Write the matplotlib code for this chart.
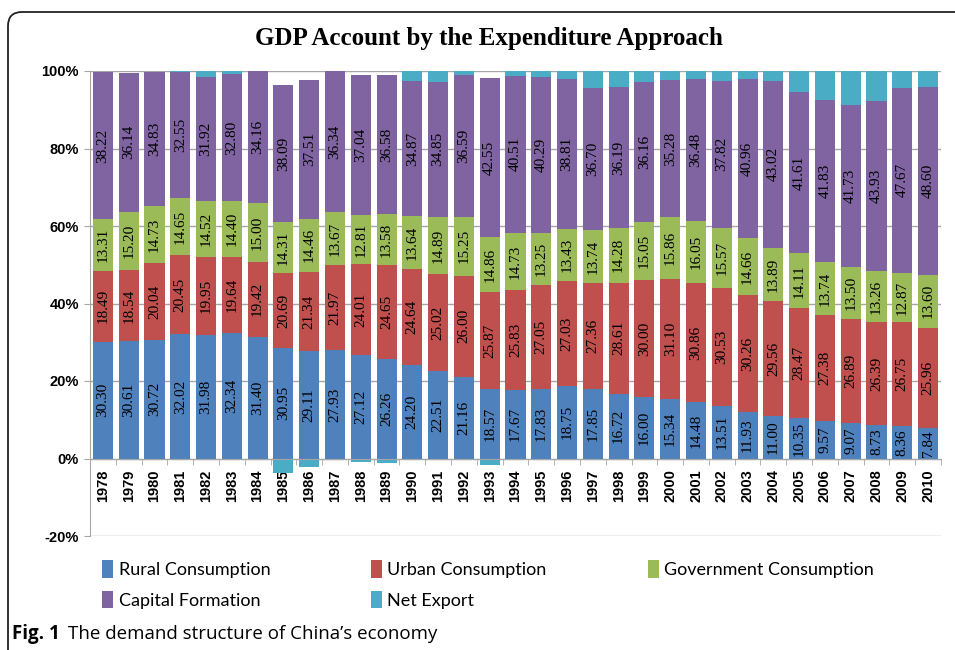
import matplotlib.pyplot as plt
import numpy as np
from matplotlib.path import Path
from matplotlib.patches import PathPatch

years = [str(y) for y in range(1978, 2011)]

rural = [30.30, 30.61, 30.72, 32.02, 31.98, 32.34, 31.40, 30.95, 29.11, 27.93,
         27.12, 26.26, 24.20, 22.51, 21.16, 18.57, 17.67, 17.83, 18.75, 17.85,
         16.72, 16.00, 15.34, 14.48, 13.51, 11.93, 11.00, 10.35, 9.57, 9.07,
         8.73, 8.36, 7.84]
urban = [18.49, 18.54, 20.04, 20.45, 19.95, 19.64, 19.42, 20.69, 21.34, 21.97,
         24.01, 24.65, 24.64, 25.02, 26.00, 25.87, 25.83, 27.05, 27.03, 27.36,
         28.61, 30.00, 31.10, 30.86, 30.53, 30.26, 29.56, 28.47, 27.38, 26.89,
         26.39, 26.75, 25.96]
government = [13.31, 15.20, 14.73, 14.65, 14.52, 14.40, 15.00, 14.31, 14.46, 13.67,
              12.81, 13.58, 13.64, 14.89, 15.25, 14.86, 14.73, 13.25, 13.43, 13.74,
              14.28, 15.05, 15.86, 16.05, 15.57, 14.66, 13.89, 14.11, 13.74, 13.50,
              13.26, 12.87, 13.60]
capital = [38.22, 36.14, 34.83, 32.55, 31.92, 32.80, 34.16, 38.09, 37.51, 36.34,
           37.04, 36.58, 34.87, 34.85, 36.59, 42.55, 40.51, 40.29, 38.81, 36.70,
           36.19, 36.16, 35.28, 36.48, 37.82, 40.96, 43.02, 41.61, 41.83, 41.73,
           43.93, 47.67, 48.60]
# net export is not labelled in the chart, estimated from the bar tops
net_export = [-0.32, -0.49, -0.32, 0.33, 1.63, 0.82, 0.02, -4.04, -2.42, 0.09,
              -0.98, -1.07, 2.65, 2.73, 1.00, -1.85, 1.26, 1.58, 1.98, 4.35,
              4.20, 2.79, 2.42, 2.13, 2.57, 2.19, 2.53, 5.46, 7.48, 8.81,
              7.69, 4.35, 4.00]

names = ['Rural Consumption', 'Urban Consumption', 'Government Consumption',
         'Capital Formation', 'Net Export']
colors = ['#4F81BD', '#C0504D', '#9BBB59', '#8064A2', '#4BACC6']

series = np.array([rural, urban, government, capital, net_export])
# 100% stacked: every column is scaled by the sum of absolute values
scale = 100.0 / np.abs(series).sum(axis=0)
shares = series * scale

fig = plt.figure(figsize=(9.55, 6.5), dpi=100)
W, H = 955, 650
ax = fig.add_axes([90 / W, 1 - 536 / H, 851 / W, 465 / H])

x = np.arange(len(years))
pos_bottom = np.zeros(len(years))
neg_bottom = np.zeros(len(years))
handles = []
for k in range(5):
    vals = shares[k]
    bottoms = np.where(vals >= 0, pos_bottom, neg_bottom)
    b = ax.bar(x, vals, bottom=bottoms, width=0.78, color=colors[k],
               label=names[k], zorder=3)
    handles.append(b)
    if k < 4:
        for i in range(len(years)):
            ax.text(x[i], bottoms[i] + vals[i] / 2, f"{series[k][i]:.2f}",
                    rotation=90, ha='center', va='center', fontsize=11,
                    family='Liberation Serif', color='black', zorder=4)
    pos_bottom = pos_bottom + np.where(vals >= 0, vals, 0)
    neg_bottom = neg_bottom + np.where(vals < 0, vals, 0)

ax.set_xlim(-0.5, len(years) - 0.5)
ax.set_ylim(-20, 100)
ax.set_yticks(np.arange(-20, 101, 20))
ax.set_yticklabels([f"{v}%" for v in range(-20, 101, 20)],
                   family='Liberation Sans', fontweight='bold', fontsize=10.5)
ax.grid(axis='y', color='#A6A6A6', linewidth=1, zorder=0)
ax.set_axisbelow(True)

for s in ['top', 'right']:
    ax.spines[s].set_visible(False)
ax.spines['left'].set_color('#A6A6A6')
ax.spines['bottom'].set_color('#A6A6A6')
ax.spines['bottom'].set_position(('data', 0))
ax.spines['bottom'].set_zorder(5)

ax.set_xticks(x)
ax.set_xticklabels(years, rotation=90, family='Liberation Sans',
                   fontweight='bold', fontsize=10.5)
ax.set_xticks(np.arange(-0.5, len(years), 1), minor=True)
ax.tick_params(axis='x', which='major', length=0, pad=8)
ax.tick_params(axis='x', which='minor', length=4, color='#A6A6A6')
ax.tick_params(axis='y', length=4, color='#A6A6A6', pad=4)

fig.text(489 / W, 1 - 38 / H, 'GDP Account by the Expenditure Approach',
         ha='center', va='center', family='Liberation Serif',
         fontweight='bold', fontsize=18)

order = [0, 3, 1, 4, 2]
leg = fig.legend([handles[i] for i in order], [names[i] for i in order],
                 loc='upper left', bbox_to_anchor=(86 / W, 1 - 544 / H),
                 ncol=3, frameon=False, handlelength=0.6, handleheight=1.1,
                 handletextpad=0.3, columnspacing=5.6, labelspacing=0.72,
                 prop={'family': 'Lato', 'size': 13})

# outer frame (left and top with rounded corner)
r = 14
verts = [(8, H + 5), (8, 12 + r), (8, 12), (8 + r, 12), (W + 5, 12)]
codes = [Path.MOVETO, Path.LINETO, Path.CURVE3, Path.CURVE3, Path.LINETO]
verts = [(vx / W, 1 - vy / H) for vx, vy in verts]
fig.patches.append(PathPatch(Path(verts, codes), transform=fig.transFigure,
                             fill=False, edgecolor='#222222', linewidth=1.3))

fig.text(12 / W, 1 - 634 / H, 'Fig. 1', family='Open Sans', fontweight='bold',
         fontsize=13.5, va='center', ha='left')
fig.text(68 / W, 1 - 634 / H, 'The demand structure of China\u2019s economy',
         family='Open Sans', fontsize=13.5, va='center', ha='left')

fig.savefig('out.png', dpi=100)
